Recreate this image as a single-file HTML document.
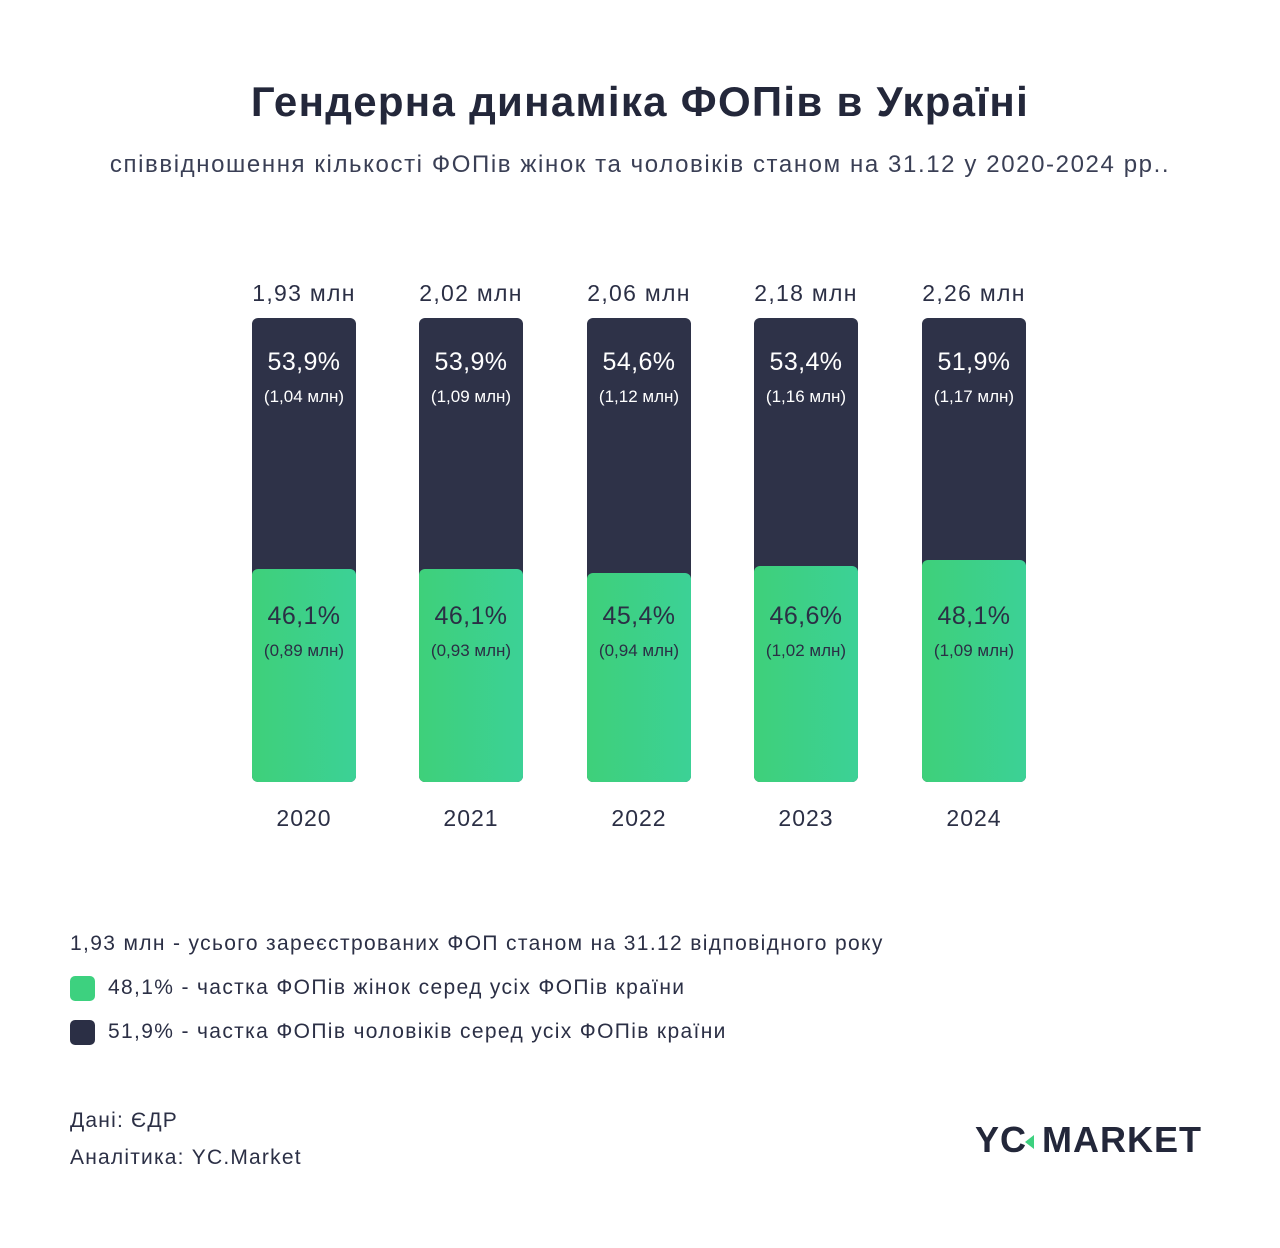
<!DOCTYPE html>
<html><head><meta charset="utf-8"><style>
body{margin:0;width:1280px;height:1248px;background:#fff;font-family:"Liberation Sans","DejaVu Sans",sans-serif;color:#2b2f45;position:relative;overflow:hidden}
.a{position:absolute;white-space:nowrap}
.c{transform:translateX(-50%);text-align:center}
.bar{position:absolute;top:318px;width:104px;height:464px;background:#2e3248;border-radius:6px;overflow:hidden}
.g{position:absolute;left:0;right:0;bottom:0;background:linear-gradient(90deg,#3ed07a,#3cd196);border-radius:6px 6px 0 0}
.sq{position:absolute;left:70px;width:25px;height:25px;border-radius:5px}
.lg{font-size:21px;letter-spacing:1.35px}
</style></head><body>
<div class="a c" style="left:640px;top:78px;font-size:42px;font-weight:bold;color:#23273a;letter-spacing:1.3px">Гендерна динаміка ФОПів в Україні</div>
<div class="a c" style="left:640px;top:151px;font-size:24px;color:#3a3f55;letter-spacing:1.6px">співвідношення кількості ФОПів жінок та чоловіків станом на 31.12 у 2020-2024 рр..</div>

<div class="bar" style="left:252px"><div class="g" style="height:213px"></div></div>
<div class="bar" style="left:419px"><div class="g" style="height:213px"></div></div>
<div class="bar" style="left:587px"><div class="g" style="height:209px"></div></div>
<div class="bar" style="left:754px"><div class="g" style="height:216px"></div></div>
<div class="bar" style="left:922px"><div class="g" style="height:222px"></div></div>

<div id="lbl"></div>
<script>
var d=[[304,"1,93","53,9","1,04","46,1","0,89","2020"],[471,"2,02","53,9","1,09","46,1","0,93","2021"],[639,"2,06","54,6","1,12","45,4","0,94","2022"],[806,"2,18","53,4","1,16","46,6","1,02","2023"],[974,"2,26","51,9","1,17","48,1","1,09","2024"]];
var h="";d.forEach(function(r){var x=r[0];
h+='<div class="a c" style="left:'+x+'px;top:280px;font-size:23px;letter-spacing:1.3px;color:#2b2f45">'+r[1]+' млн</div>';
h+='<div class="a c" style="left:'+x+'px;top:348px;font-size:25px;letter-spacing:0.4px;color:#fff">'+r[2]+'%</div>';
h+='<div class="a c" style="left:'+x+'px;top:387px;font-size:17px;color:#fff">('+r[3]+' млн)</div>';
h+='<div class="a c" style="left:'+x+'px;top:602px;font-size:25px;letter-spacing:0.4px;color:#2b2f45">'+r[4]+'%</div>';
h+='<div class="a c" style="left:'+x+'px;top:641px;font-size:17px;color:#2b2f45">('+r[5]+' млн)</div>';
h+='<div class="a c" style="left:'+x+'px;top:805px;font-size:23px;letter-spacing:1px;color:#2b2f45">'+r[6]+'</div>';});
document.getElementById("lbl").innerHTML=h;
</script>

<div class="a lg" style="left:70px;top:932px">1,93 млн - усього зареєстрованих ФОП станом на 31.12 відповідного року</div>
<div class="sq" style="top:976px;background:#3dd17f"></div>
<div class="a lg" style="left:108px;top:976px">48,1% - частка ФОПів жінок серед усіх ФОПів країни</div>
<div class="sq" style="top:1020px;background:#2b2f45"></div>
<div class="a lg" style="left:108px;top:1020px">51,9% - частка ФОПів чоловіків серед усіх ФОПів країни</div>

<div class="a" style="left:70px;top:1109px;font-size:21px;letter-spacing:1.2px">Дані: ЄДР</div>
<div class="a" style="left:70px;top:1146px;font-size:21px;letter-spacing:1.2px">Аналітика: YC.Market</div>

<div class="a" style="left:975px;top:1119px;font-size:36px;font-weight:bold;color:#23273a;letter-spacing:1px">YC<span style="display:inline-block;width:0;height:0;border-top:7px solid transparent;border-bottom:7px solid transparent;border-right:9px solid #3dd17f;margin:0 8px 0 -2px;vertical-align:middle"></span>MARKET</div>
</body></html>
